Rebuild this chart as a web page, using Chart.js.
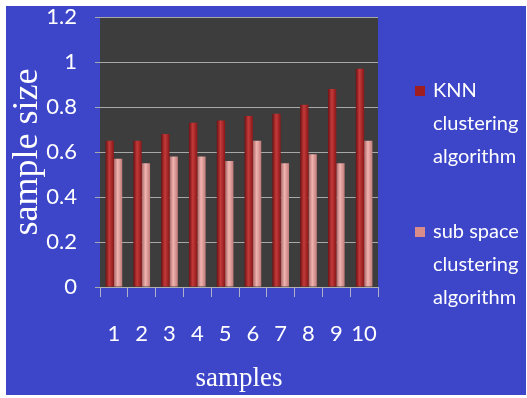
<!DOCTYPE html>
<html>
<head>
<meta charset="utf-8">
<script src="https://cdn.jsdelivr.net/npm/chart.js@4"></script>
<style>
  body { margin: 0; background: #ffffff; }
  #wrap { position: absolute; left: 6px; top: 6px; width: 520px; height: 389px; background: #3d46c9; }
</style>
</head>
<body>
<div id="wrap"><canvas id="chart" width="520" height="389"></canvas></div>
<script>
// Chart values
const samples = ['1', '2', '3', '4', '5', '6', '7', '8', '9', '10'];
const knnValues = [0.65, 0.65, 0.68, 0.73, 0.74, 0.76, 0.77, 0.81, 0.88, 0.97];
const subSpaceValues = [0.57, 0.55, 0.58, 0.58, 0.56, 0.65, 0.55, 0.59, 0.55, 0.65];
const seriesLines = [['KNN', 'clustering', 'algorithm'], ['sub space', 'clustering', 'algorithm']];
const seriesColors = ['#a01d1f', '#d88d8c'];
const seriesShades = [['#6e1012', '#c43a3a', '#8a1718'], ['#a86464', '#f0b4b0', '#c07a78']];

// Cylinder-like shading across each bar
function barFill(context) {
    const chart = context.chart;
    const i = context.datasetIndex;
    const xScale = chart.scales.x;
    if (!chart.chartArea || !xScale || context.dataIndex === undefined) {
        return seriesColors[i];
    }
    const catWidth = xScale.width / samples.length;
    const w = catWidth * 0.6 / 2;
    const mid = xScale.getPixelForValue(context.dataIndex);
    const left = i === 0 ? mid - w : mid;
    const g = chart.ctx.createLinearGradient(left, 0, left + w, 0);
    g.addColorStop(0, seriesShades[i][0]);
    g.addColorStop(0.45, seriesShades[i][1]);
    g.addColorStop(1, seriesShades[i][2]);
    return g;
}

// Dark plot background
const plotBackground = {
    id: 'plotBackground',
    beforeDraw(chart) {
        const { ctx, chartArea } = chart;
        ctx.save();
        ctx.fillStyle = '#3d3d3d';
        ctx.fillRect(chartArea.left, chartArea.top, chartArea.right - chartArea.left, chartArea.bottom - chartArea.top);
        ctx.restore();
    }
};

// Legend on the right with wrapped labels
const sideLegend = {
    id: 'sideLegend',
    afterDraw(chart) {
        const ctx = chart.ctx;
        ctx.save();
        ctx.font = '20px Lato';
        ctx.textBaseline = 'middle';
        chart.data.datasets.forEach((ds, i) => {
            const y0 = 85 + i * 141;
            ctx.fillStyle = seriesColors[i];
            ctx.fillRect(409, y0 - 5, 10, 10);
            ctx.fillStyle = '#ffffff';
            seriesLines[i].forEach((line, j) => {
                ctx.fillText(line, 427, y0 + j * 33);
            });
        });
        ctx.restore();
    }
};

const ctx = document.getElementById('chart').getContext('2d');

new Chart(ctx, {
    type: 'bar',
    data: {
        labels: samples,
        datasets: [
            {
                label: seriesLines[0].join(' '),
                data: knnValues,
                backgroundColor: barFill,
            },
            {
                label: seriesLines[1].join(' '),
                data: subSpaceValues,
                backgroundColor: barFill,
            },
        ],
    },
    options: {
        responsive: false,
        animation: false,
        layout: {
            padding: { left: 0, right: 148, top: 11, bottom: 0 },
        },
        datasets: {
            bar: { categoryPercentage: 0.6, barPercentage: 1 },
        },
        scales: {
            x: {
                offset: true,
                grid: {
                    offset: true,
                    drawOnChartArea: false,
                    color: '#b0b0c8',
                    tickLength: 10,
                },
                border: { color: '#b0b0b0' },
                ticks: {
                    color: '#ffffff',
                    font: { family: 'Lato', size: 22 },
                    padding: 24,
                    maxRotation: 0,
                    autoSkip: false,
                },
                title: {
                    display: true,
                    text: 'samples',
                    color: '#ffffff',
                    font: { family: 'Liberation Serif', size: 27 },
                    padding: { top: 0, bottom: 0 },
                },
                afterFit(scale) {
                    scale.height = 108;
                    scale.paddingLeft = 0;
                    scale.paddingRight = 0;
                },
            },
            y: {
                min: 0,
                max: 1.2,
                ticks: {
                    stepSize: 0.2,
                    color: '#ffffff',
                    font: { family: 'Lato', size: 22 },
                    padding: 18,
                    callback: v => Math.round(v * 10) / 10,
                },
                grid: {
                    color: '#a8a8a8',
                    tickLength: 5,
                },
                border: { display: false },
                title: {
                    display: true,
                    text: 'sample size',
                    color: '#ffffff',
                    font: { family: 'Liberation Serif', size: 36 },
                    padding: { top: 0, bottom: 0 },
                },
                afterFit(scale) {
                    scale.width = 94;
                    scale.paddingTop = 0;
                    scale.paddingBottom = 0;
                },
            },
        },
        plugins: {
            legend: { display: false },
            tooltip: { enabled: false },
        },
    },
    plugins: [plotBackground, sideLegend],
});
</script>
</body>
</html>
